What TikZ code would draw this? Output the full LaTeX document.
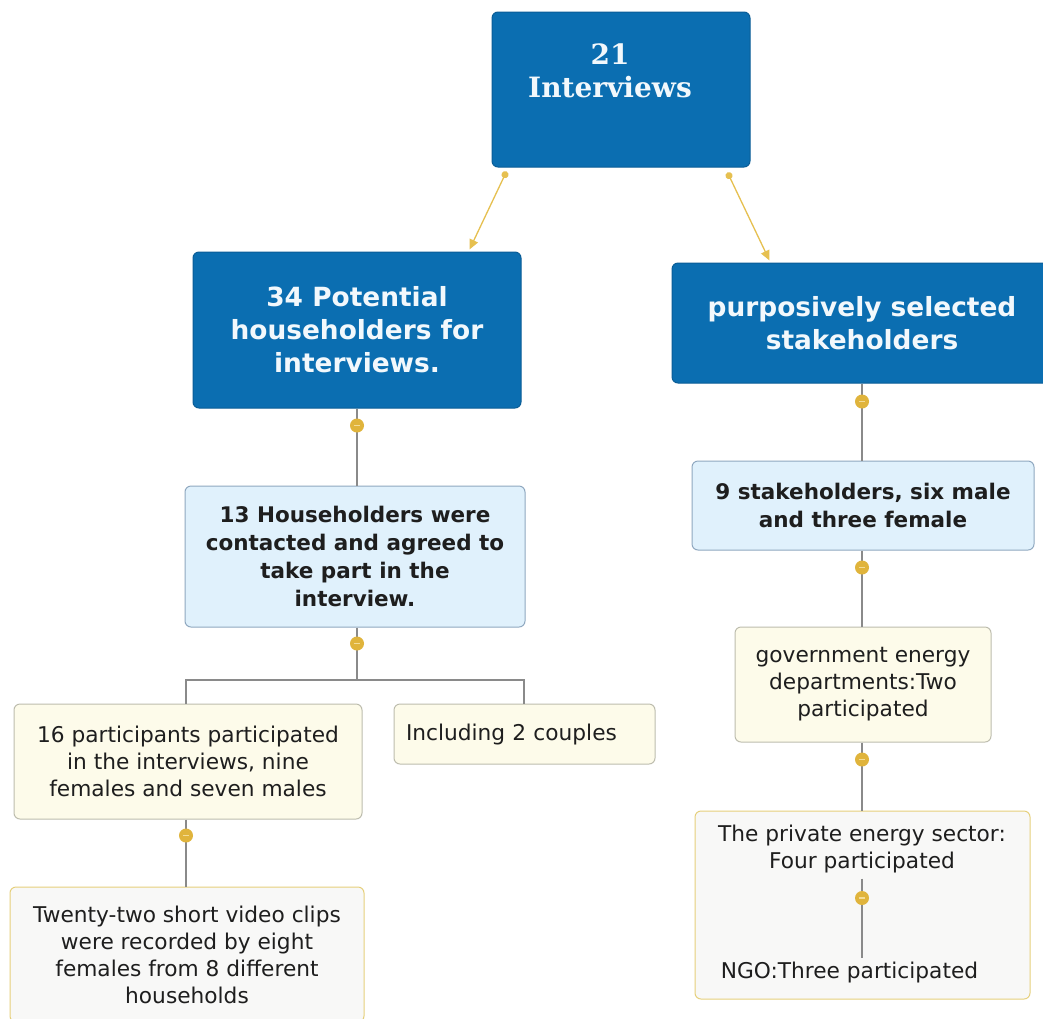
\documentclass[tikz,border=0pt]{standalone}
\usepackage{fontspec}
\setmainfont{DejaVu Sans}
\newfontfamily\topfont{DejaVu Serif}
\usetikzlibrary{arrows.meta}

\definecolor{hdblue}{HTML}{0B6EB1}
\definecolor{hdline}{HTML}{0A5D97}
\definecolor{hdtext}{HTML}{F2F8FC}
\definecolor{lbfill}{HTML}{E0F1FC}
\definecolor{lbline}{HTML}{8FA8C0}
\definecolor{crfill}{HTML}{FDFBEA}
\definecolor{crline}{HTML}{BDBDAE}
\definecolor{gyfill}{HTML}{F8F8F7}
\definecolor{gyline}{HTML}{E6D07C}
\definecolor{knobgold}{HTML}{E0B43C}
\definecolor{knobdash}{HTML}{F3DC98}
\definecolor{arrowgold}{HTML}{E6C050}
\definecolor{linkgray}{HTML}{8A8A8A}
\definecolor{bodytext}{HTML}{1E1E1E}

\tikzset{
  box/.style={draw, rounded corners=6pt, line width=1pt, inner sep=0pt, align=center},
  headbox/.style={box, fill=hdblue, draw=hdline, text=hdtext,
    font=\fontsize{26.4}{33}\selectfont\bfseries},
  topbox/.style={box, fill=hdblue, draw=hdline},
  toptext/.style={inner sep=0pt, align=center, text=hdtext,
    font=\fontsize{28}{33}\selectfont\topfont\bfseries},
  lightbox/.style={box, fill=lbfill, draw=lbline, text=bodytext,
    font=\fontsize{21.5}{28}\selectfont\bfseries},
  creambox/.style={box, fill=crfill, draw=crline, text=bodytext,
    font=\fontsize{21.7}{27}\selectfont},
  greybox/.style={box, fill=gyfill, draw=gyline, text=bodytext,
    font=\fontsize{21.7}{27}\selectfont},
  plaintext/.style={inner sep=0pt, align=center, text=bodytext,
    font=\fontsize{21.7}{27}\selectfont},
  link/.style={draw=linkgray, line width=1.2pt},
  branch/.style={draw=arrowgold, line width=1.3pt,
    {Circle[length=7pt]}-{Triangle[length=10pt,width=9pt]}},
  knob/.style={circle, fill=knobgold, minimum size=14pt, inner sep=0pt,
    path picture={\draw[knobdash, line width=1.6pt]
      ([xshift=-3.4pt]path picture bounding box.center) --
      ([xshift=3.4pt]path picture bounding box.center);}},
}

\begin{document}
\begin{tikzpicture}[x=1pt, y=-1pt]
\useasboundingbox[fill=white] (0,0) rectangle (1043,1018);

% ---- boxes ----
\node[topbox, minimum width=258pt, minimum height=155pt] (top) at (621,89.5) {};
\node[toptext] (toptxt) at (610,71) {21\\Interviews};

\node[headbox, minimum width=328pt, minimum height=156pt] (pot) at (357,330)
  {34 Potential\\householders for\\interviews.};
\node[headbox, minimum width=380pt, minimum height=120pt] (purp) at (862,323)
  {purposively selected\\stakeholders};

\node[lightbox, minimum width=340pt, minimum height=141pt] (hh13) at (355,556.5)
  {13 Householders were\\contacted and agreed to\\take part in the\\interview.};
\node[lightbox, minimum width=342pt, minimum height=89pt] (st9) at (863,505.5)
  {9 stakeholders, six male\\and three female};

\node[creambox, minimum width=348pt, minimum height=115pt] (p16) at (188,761.5)
  {16 participants participated\\in the interviews, nine\\females and seven males};
\node[creambox, minimum height=60pt, text width=237pt, inner xsep=12pt, align=left]
  (cpl) at (524.5,734) {Including 2 couples};
\node[greybox, minimum width=354pt, minimum height=135pt] (vid) at (187,954.5)
  {Twenty-two short video clips\\were recorded by eight\\females from 8 different\\households};

\node[creambox, minimum width=256pt, minimum height=115pt] (gov) at (863,684.5)
  {government energy\\departments:Two\\participated};
\node[greybox, minimum width=335pt, minimum height=188pt] (priv) at (862.5,905) {};
\node[plaintext] (privtxt) at (862,848.5) {The private energy sector:\\Four participated};
\node[plaintext] (ngo) at (849.5,972) {NGO:Three participated};

% ---- branches from the root ----
\draw[branch] ([xshift=15pt,yshift=-4pt]top.south west) -- ([xshift=277pt,yshift=2pt]pot.north west);
\draw[branch] ([xshift=-23pt,yshift=-5pt]top.south east) -- ([xshift=98pt,yshift=2pt]purp.north west);

% ---- tree links ----
\coordinate (busL) at (186,680);
\coordinate (busR) at (524,680);
\draw[link] (pot.south) -- (pot.south |- hh13.north);
\draw[link] (pot.south |- hh13.south) -- (pot.south |- busL);
\draw[link] (busL |- p16.north) -- (busL) -- (busR) -- (busR |- cpl.north);
\draw[link] (p16.south -| busL) -- (busL |- vid.north);

\draw[link] (purp.south) -- (purp.south |- st9.north);
\draw[link] (purp.south |- st9.south) -- (purp.south |- gov.north);
\draw[link] (purp.south |- gov.south) -- (purp.south |- priv.north);
\draw[link] ([yshift=-6pt]privtxt.south) -- ([yshift=3pt]privtxt.south |- ngo.north);

% ---- collapse knobs ----
\node[knob] (k1) at ([yshift=-17pt]pot.south) {};
\node[knob] (k2) at ([yshift=-16pt]pot.south |- hh13.south) {};
\node[knob] (k3) at ([yshift=-16pt]p16.south -| busL) {};
\node[knob] (k4) at ([yshift=-18pt]purp.south) {};
\node[knob] (k5) at ([yshift=-17pt]purp.south |- st9.south) {};
\node[knob] (k6) at ([yshift=-17pt]purp.south |- gov.south) {};
\node[knob] (k7) at (862,898) {};
\end{tikzpicture}
\end{document}
